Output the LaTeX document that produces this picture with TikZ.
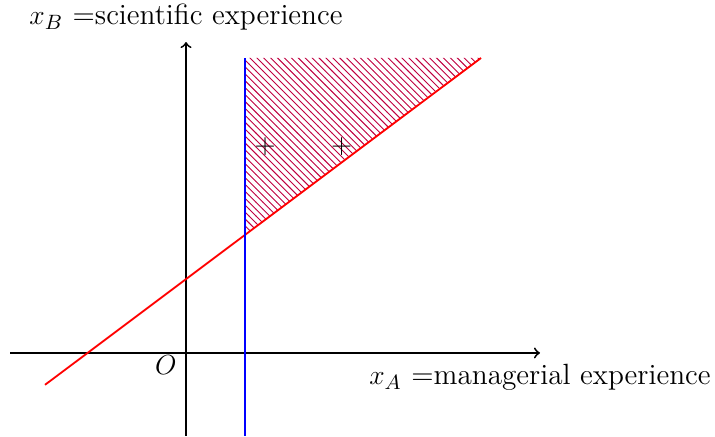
\documentclass[tikz,border=0pt]{standalone}
\usetikzlibrary{patterns}
\begin{document}
\begin{tikzpicture}[x=0.9cm,y=0.9cm,
  every node/.style={font=\fontsize{12.7}{15}\selectfont},
  axis/.style={thick,->},
  redline/.style={thick,red},
  blueline/.style={thick,blue},
  hatch/.style={pattern=north west lines,pattern color=purple},
  markpt/.style={inner sep=0pt}]
\useasboundingbox (-3.153,-1.424) rectangle (8.966,5.983);
% hatched region
\fill[hatch] (1,2) -- (1,5) -- (5,5) -- cycle;
% axes
\coordinate (xl) at (-2.98,0);
\coordinate (xr) at (6,0);
\coordinate (yb) at (0,-1.4);
\coordinate (yt) at (0,5.27);
\draw[axis] (xl) -- (xr);
\draw[axis] (yb) -- (yt);
% lines
\coordinate (r1) at (-2.39,-0.54);
\coordinate (r2) at (5,5);
\draw[redline] (r1) -- (r2);
\coordinate (b1) at (1,-1.4);
\coordinate (b2) at (1,5);
\draw[blueline] (b1) -- (b2);
% labels
\node[anchor=base] (lb) at (0,5.56) {$x_B$ =scientific experience};
\node[anchor=base] (la) at (6,-0.54) {$x_A$ =managerial experience};
\node (o) at (-0.34,-0.21) {$O$};
\node[markpt] (p1) at (1.34,3.49) {$+$};
\node[markpt] (p2) at (2.64,3.49) {$+$};
\end{tikzpicture}
\end{document}
